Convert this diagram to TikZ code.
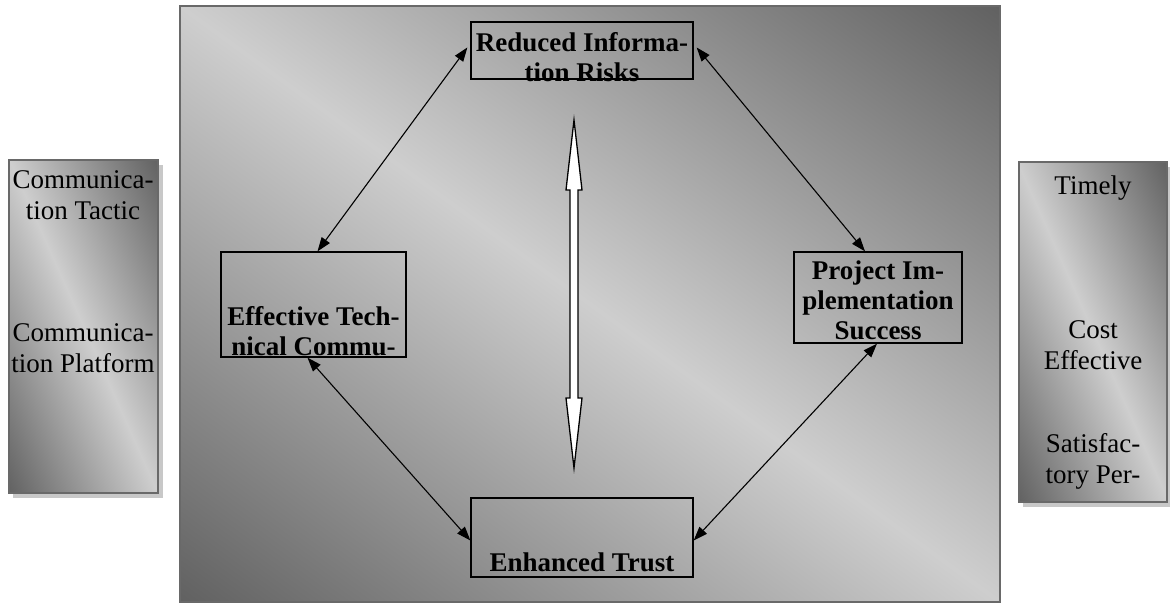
\documentclass[tikz,border=0pt]{standalone}
\usepackage{fontspec}
\setmainfont{Liberation Serif}
\usetikzlibrary{arrows.meta,calc}
\definecolor{darkg}{RGB}{96,96,96}
\definecolor{lightg}{RGB}{206,206,206}
\definecolor{frameg}{RGB}{105,105,105}
\definecolor{shadowg}{RGB}{200,200,200}
\tikzset{
  gradfill/.style={top color=darkg, bottom color=darkg, middle color=lightg},
  shadowbox/.style={fill=shadowg, draw=none},
  ibox/.style={draw=black, line width=1.3pt, fill=none, inner sep=0pt},
  btext/.style={font=\fontsize{27}{30}\selectfont\bfseries, align=center, inner sep=0pt},
  ptext/.style={font=\fontsize{27}{31}\selectfont, align=center, inner sep=0pt},
  link/.style={line width=1.1pt, {Triangle[length=14pt,width=10pt]}-{Triangle[length=14pt,width=10pt]}},
  hollow/.style={draw=black, line width=1.3pt, fill=white, line join=miter}
}
\begin{document}
\begin{tikzpicture}[x=1pt,y=1pt]
\useasboundingbox (0,0) rectangle (1170,605);
% big panel
\begin{scope}
  \clip (180,3) rectangle (1000,599);
  \fill[darkg] (180,3) rectangle (1000,599);
  \begin{scope}[transform canvas={rotate around={-36:(590,301)}}]
    \shade[gradfill] (-410,-184) rectangle (1590,786);
  \end{scope}
\end{scope}
\draw[frameg, line width=2.5pt] (180,3) rectangle (1000,599);
% left panel
\fill[shadowbox] (13,107) rectangle (163,440);
\begin{scope}
  \clip (9,112) rectangle (158,445);
  \fill[darkg] (9,112) rectangle (158,445);
  \begin{scope}[transform canvas={rotate around={-66:(83.5,278.5)}}]
    \shade[gradfill] (-216.5,140.5) rectangle (383.5,416.5);
  \end{scope}
\end{scope}
\draw[frameg, line width=2pt] (9,112) rectangle (158,445);
\node[ptext] (lt1) at (83,410) {Communica-\\tion Tactic};
\node[ptext] (lt2) at (83,257) {Communica-\\tion Platform};
% right panel
\fill[shadowbox] (1023,98) rectangle (1170,438);
\begin{scope}
  \clip (1019,103) rectangle (1167,443);
  \fill[darkg] (1019,103) rectangle (1167,443);
  \begin{scope}[transform canvas={rotate around={-66:(1093,273)}}]
    \shade[gradfill] (793,134) rectangle (1393,412);
  \end{scope}
\end{scope}
\draw[frameg, line width=2pt] (1019,103) rectangle (1167,443);
\node[ptext] (rt1) at (1093,417) {Timely};
\node[ptext] (rt2) at (1093,260) {Cost\\Effective};
\node[ptext] (rt3) at (1093,144) {Satisfac-\\tory Per-};
% boxes
\node[ibox, minimum width=222pt, minimum height=57pt] (top) at (582,554.5) {};
\node[btext] (toptxt) at (582,548) {Reduced Informa-\\tion Risks};
\node[ibox, minimum width=185pt, minimum height=105pt] (eff) at (313.5,300.5) {};
\node[btext] (efftxt) at (313.5,274) {Effective Tech-\\nical Commu-};
\node[ibox, minimum width=168pt, minimum height=91pt] (proj) at (878,307.5) {};
\node[btext] (projtxt) at (878,305) {Project Im-\\plementation\\Success};
\node[ibox, minimum width=222pt, minimum height=79pt] (enh) at (582,67.5) {};
\node[btext] (enhtxt) at (582,43) {Enhanced Trust};
% connectors
\draw[link] ($(top.west)+(-3,3)$) -- ($(eff.north)+(4,0)$);
\draw[link] ($(top.east)+(3,3)$) -- ($(proj.north)+(-13,0)$);
\draw[link] ($(eff.south)+(-6,0)$) -- ($(enh.west)+(0,-3)$);
\draw[link] ($(enh.east)+(0,-3)$) -- ($(proj.south)+(-1,0)$);
% central hollow double arrow
\coordinate (ca) at (574,311);
\draw[hollow] ($(ca)+(0,174)$) -- ($(ca)+(8,104)$) -- ($(ca)+(4,104)$) -- ($(ca)+(4,-104)$) -- ($(ca)+(8,-104)$) -- ($(ca)+(0,-174)$) -- ($(ca)+(-8,-104)$) -- ($(ca)+(-4,-104)$) -- ($(ca)+(-4,104)$) -- ($(ca)+(-8,104)$) -- cycle;
\end{tikzpicture}
\end{document}
